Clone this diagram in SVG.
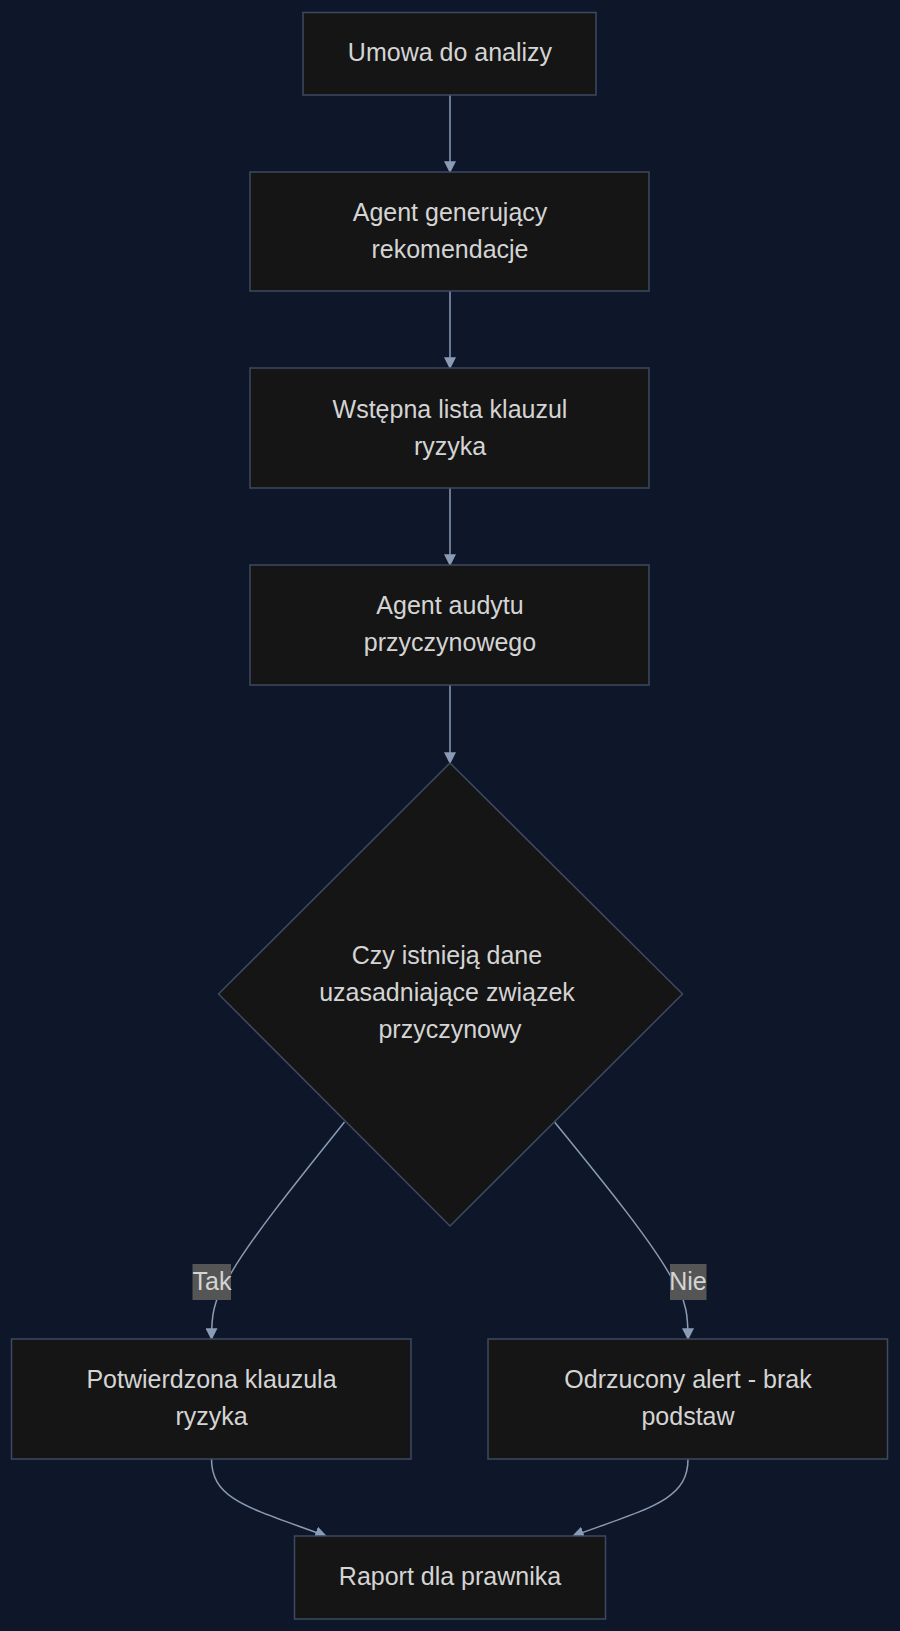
<svg xmlns="http://www.w3.org/2000/svg" width="900" height="1631" viewBox="0 0 900 1631">
<defs>
<style>
.n{fill:#151515;stroke:#3d4a60;stroke-width:1.5}
.t{font-family:"Liberation Sans",Arial,sans-serif;font-size:25px;fill:#d4d4d4;text-anchor:middle}
.e{fill:none;stroke:#8a9bb5;stroke-width:1.5}
.lb{fill:#555555}
</style>
<marker id="a" viewBox="0 0 10 10" refX="9" refY="5" markerWidth="12" markerHeight="12" orient="auto-start-reverse" markerUnits="userSpaceOnUse"><path d="M0,0L10,5L0,10z" fill="#8a9bb5"/></marker>
</defs>
<rect width="900" height="1631" fill="#0e172a"/>
<g id="edges">
<path class="e" d="M450,95V172" marker-end="url(#a)"/>
<path class="e" d="M450,291V368" marker-end="url(#a)"/>
<path class="e" d="M450,488V565" marker-end="url(#a)"/>
<path class="e" d="M450,685V763" marker-end="url(#a)"/>
<path class="e" d="M344.5,1122C290,1190 250,1240 230,1275C212,1300 211.5,1320 211.5,1339" marker-end="url(#a)"/>
<path class="e" d="M554.5,1122C610,1190 650,1240 670,1275C688,1300 688,1320 688,1339" marker-end="url(#a)"/>
<path class="e" d="M211.5,1459C211.5,1500 250,1508 326,1536" marker-end="url(#a)"/>
<path class="e" d="M688,1459C688,1500 650,1508 573,1536" marker-end="url(#a)"/>
<rect class="lb" x="192.5" y="1264" width="38.5" height="36"/>
<text class="t" x="212" y="1290">Tak</text>
<rect class="lb" x="670" y="1264" width="36.5" height="36"/>
<text class="t" x="688" y="1290">Nie</text>
</g>
<g id="n1"><rect class="n" x="303" y="12.5" width="293" height="82.5"/><text class="t" x="450" y="61">Umowa do analizy</text></g>
<g id="n2"><rect class="n" x="250" y="172" width="399" height="119"/><text class="t" x="450" y="221">Agent generujący</text><text class="t" x="450" y="258">rekomendacje</text></g>
<g id="n3"><rect class="n" x="250" y="368" width="399" height="120"/><text class="t" x="450" y="418">Wstępna lista klauzul</text><text class="t" x="450" y="455">ryzyka</text></g>
<g id="n4"><rect class="n" x="250" y="565" width="399" height="120"/><text class="t" x="450" y="614">Agent audytu</text><text class="t" x="450" y="651">przyczynowego</text></g>
<g id="d"><polygon class="n" points="450,763 682.5,994 450,1226 218.5,994"/><text class="t" x="447" y="964">Czy istnieją dane</text><text class="t" x="447" y="1001">uzasadniające związek</text><text class="t" x="450" y="1038">przyczynowy</text></g>
<g id="n5"><rect class="n" x="11.5" y="1339" width="399.5" height="120"/><text class="t" x="211.5" y="1388">Potwierdzona klauzula</text><text class="t" x="211.5" y="1425">ryzyka</text></g>
<g id="n6"><rect class="n" x="488" y="1339" width="399.5" height="120"/><text class="t" x="688" y="1388">Odrzucony alert - brak</text><text class="t" x="688" y="1425">podstaw</text></g>
<g id="n7"><rect class="n" x="294.5" y="1536" width="311" height="83"/><text class="t" x="450" y="1585">Raport dla prawnika</text></g>
</svg>
